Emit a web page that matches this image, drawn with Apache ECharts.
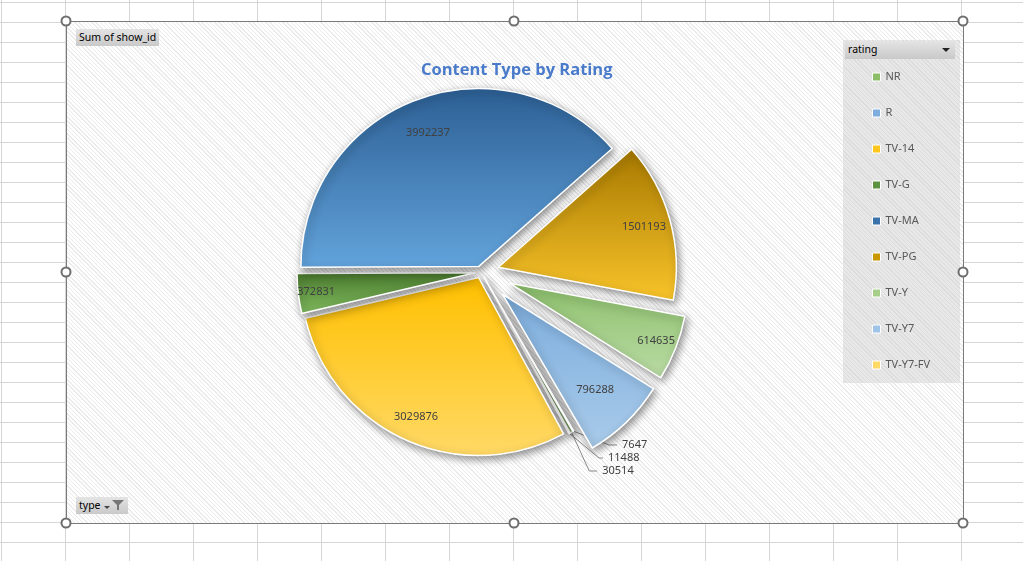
<!DOCTYPE html>
<html>
<head>
<meta charset="utf-8">
<script src="https://cdn.jsdelivr.net/npm/echarts@6/dist/echarts.min.js"></script>
<style>
  html, body { margin: 0; padding: 0; width: 1023px; height: 561px; overflow: hidden; background: #fff; }
  #sheet {
    position: absolute; left: 0; top: 0; width: 1023px; height: 561px;
    background-image: linear-gradient(to right, #d6d6d6 1px, transparent 1px),
                      linear-gradient(to bottom, #d6d6d6 1px, transparent 1px);
    background-size: 64px 20px;
    background-position: 1px 2px;
  }
  #box {
    position: absolute; left: 66px; top: 21px; width: 898px; height: 503px; box-sizing: border-box;
    border: 1px solid #7a7a7a;
    background: repeating-linear-gradient(45deg, #ffffff 0 2px, #ebebeb 2px 3px);
  }
  #legendBox {
    position: absolute; left: 843px; top: 40px; width: 117px; height: 343px;
    background: repeating-linear-gradient(45deg, #e8e8e8 0 2px, #dcdcdc 2px 3px);
  }
  .btn {
    position: absolute; font: 10.5px "Noto Sans", sans-serif; color: #000; box-sizing: border-box;
    background: linear-gradient(#e4e4e4, #c9c9c9); line-height: 16px; padding-left: 3px; white-space: nowrap;
  }
  #chart { position: absolute; left: 0; top: 0; width: 1023px; height: 561px; }
  .h {
    position: absolute; width: 11px; height: 11px; box-sizing: border-box; border-radius: 50%;
    border: 2px solid #6e6e6e; background: #fff; transform: translate(-50%, -50%); z-index: 5;
  }
</style>
</head>
<body>
<div id="sheet"></div>
<div id="box"></div>
<div id="legendBox"></div>
<div class="btn" style="left:76px;top:29px;width:83px;height:17px;">Sum of show_id</div>
<div class="btn" style="left:845px;top:41px;width:110px;height:18px;line-height:17px;">rating
  <svg width="8" height="5" style="position:absolute;right:5px;top:7px"><path d="M0,0 L8,0 L4,4 z" fill="#222"/></svg>
</div>
<div class="btn" style="left:76px;top:497px;width:52px;height:17px;">type
  <svg width="24" height="12" style="position:absolute;left:28px;top:2px">
    <path d="M0,7 L6,7 L3,10 z" fill="#444"/>
    <path d="M8,1 L20,1 L15,6 L15,11 L13,11 L13,6 z" fill="#777"/>
  </svg>
</div>
<div id="chart"></div>
<div class="h" style="left:66px;top:21px"></div>
<div class="h" style="left:514px;top:21px"></div>
<div class="h" style="left:963px;top:21px"></div>
<div class="h" style="left:66px;top:272px"></div>
<div class="h" style="left:963px;top:272px"></div>
<div class="h" style="left:66px;top:523px"></div>
<div class="h" style="left:514px;top:523px"></div>
<div class="h" style="left:963px;top:523px"></div>
<script>
const ratings = ["NR", "R", "TV-14", "TV-G", "TV-MA", "TV-PG", "TV-Y", "TV-Y7", "TV-Y7-FV"];
const showIdSums = [30514, 11488, 3029876, 372831, 3992237, 1501193, 614635, 796288, 7647];

// slice gradients, top -> bottom
const sliceColors = {
  "NR": ["#6ea948", "#a6cf8b"],
  "R": ["#6f9fd6", "#a6c8ea"],
  "TV-14": ["#ffc000", "#ffd966"],
  "TV-G": ["#4a7a2e", "#80ba5e"],
  "TV-MA": ["#2c5f94", "#62a3db"],
  "TV-PG": ["#a67900", "#f9c42a"],
  "TV-Y": ["#8cc06b", "#badba5"],
  "TV-Y7": ["#7caddd", "#a9cbea"],
  "TV-Y7-FV": ["#ffcd3a", "#ffdf80"]
};
const legendColors = {
  "NR": "#8cbe68", "R": "#7eadde", "TV-14": "#ffc61e", "TV-G": "#5b9440", "TV-MA": "#3a72ac",
  "TV-PG": "#c99800", "TV-Y": "#a5cf8a", "TV-Y7": "#a0c4e8", "TV-Y7-FV": "#ffd966"
};
// exploded slices (offset in px)
const explode = {
  "NR": 6, "R": 6, "TV-14": 6, "TV-G": 6, "TV-MA": 6, "TV-Y7-FV": 6,
  "TV-PG": 18, "TV-Y": 31, "TV-Y7": 31
};
// distance of the inside value label from the centre
const labelRadius = { "TV-14": 150, "TV-G": 157, "TV-MA": 140, "TV-PG": 148, "TV-Y": 154, "TV-Y7": 130 };
// leader line lengths for the thin slices
const tinyLine = { "NR": [36, 8], "R": [22, 4], "TV-Y7-FV": [16, 8] };

const center = [481, 272];
const outerR = 178;
const startAngle = 300;
const labelFont = { fontSize: 11, color: "#404040", fontFamily: "Noto Sans" };
const fmt = function (p) { return String(p.value); };

function grad(c) {
  return { type: "linear", x: 0, y: 0, x2: 0, y2: 1,
    colorStops: [{ offset: 0, color: c[0] }, { offset: 1, color: c[1] }] };
}
const hidden = { color: "rgba(0,0,0,0)", borderWidth: 0, shadowBlur: 0 };

const series = [];
const offsets = [];
ratings.forEach(function (n) { if (offsets.indexOf(explode[n]) < 0) offsets.push(explode[n]); });

// one pie per explosion offset, other slices left transparent
offsets.forEach(function (off) {
  series.push({
    type: "pie", center: center, radius: [0, outerR], startAngle: startAngle,
    selectedMode: "multiple", selectedOffset: off, animation: false,
    emphasis: { disabled: true }, avoidLabelOverlap: true, z: 2,
    data: ratings.map(function (name, i) {
      if (explode[name] !== off) return { name: name, value: showIdSums[i], itemStyle: hidden,
        label: { show: false }, labelLine: { show: false } };
      const line = tinyLine[name];
      return {
        name: name, value: showIdSums[i], selected: true,
        itemStyle: { color: grad(sliceColors[name]), borderColor: "#fff", borderWidth: 1.5,
          shadowBlur: 8, shadowOffsetX: 2, shadowOffsetY: 3, shadowColor: "rgba(0,0,0,0.45)" },
        label: line ? Object.assign({ show: true, position: "outside", formatter: fmt }, labelFont) : { show: false },
        labelLine: line ? { show: true, length: line[0], length2: line[1], lineStyle: { color: "#8a8a8a", width: 1 } } : { show: false }
      };
    })
  });
});

// invisible rings that only carry the value labels
Object.keys(labelRadius).forEach(function (lab) {
  const r = labelRadius[lab];
  series.push({
    type: "pie", center: center, radius: [2 * r - outerR, outerR], startAngle: startAngle,
    selectedMode: "multiple", selectedOffset: explode[lab], animation: false, silent: true, z: 3,
    avoidLabelOverlap: false, labelLine: { show: false },
    data: ratings.map(function (name, i) {
      return { name: name, value: showIdSums[i], selected: name === lab, itemStyle: hidden,
        label: Object.assign({ show: name === lab, position: "inside", formatter: fmt }, labelFont) };
    })
  });
});

const chart = echarts.init(document.getElementById("chart"));
chart.setOption({
  animation: false,
  title: {
    text: "Content Type by Rating", left: 416, top: 57,
    textStyle: { color: "#4a7bcb", fontSize: 16.5, fontWeight: "bold", fontFamily: "Open Sans" }
  },
  legend: {
    orient: "vertical", left: 872, top: 70, padding: 0, icon: "rect",
    itemWidth: 8, itemHeight: 8, itemGap: 22, selectedMode: false,
    itemStyle: { borderColor: "#fff", borderWidth: 1 },
    textStyle: { fontSize: 11, color: "#595959", fontFamily: "Noto Sans", lineHeight: 14 },
    data: ratings.map(function (name) { return { name: name, itemStyle: { color: legendColors[name] } }; })
  },
  series: series
});
</script>
</body>
</html>
